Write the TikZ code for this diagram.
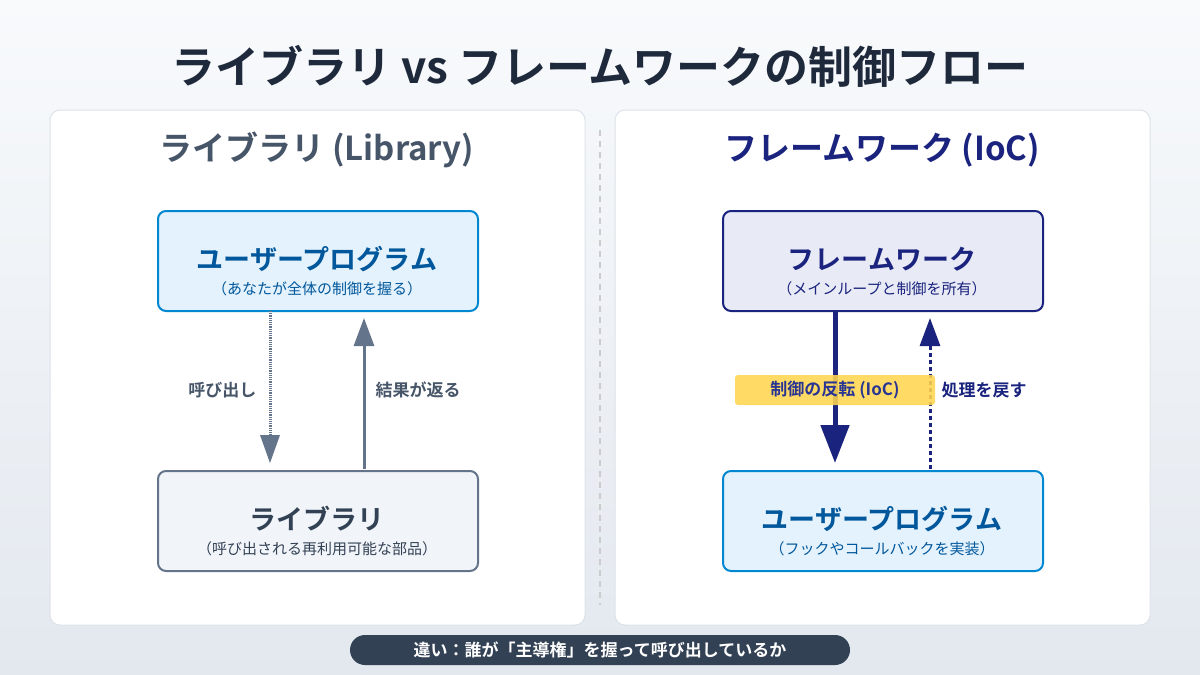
\documentclass[tikz,border=0pt]{standalone}
\usepackage{fontspec}
\setmainfont{Noto Sans CJK JP}
\newfontfamily\jpbold{Noto Sans CJK JP Bold}
\usetikzlibrary{arrows.meta}
\definecolor{bgtop}{HTML}{F8FAFC}\definecolor{bgbot}{HTML}{E3E8EF}
\definecolor{ink}{HTML}{1E293B}\definecolor{slate}{HTML}{475569}
\definecolor{slateln}{HTML}{64748B}\definecolor{navy}{HTML}{1A237E}
\definecolor{blue}{HTML}{0288D1}\definecolor{dblue}{HTML}{01579B}
\definecolor{lblue}{HTML}{E3F2FD}\definecolor{lnavy}{HTML}{E8EAF6}
\definecolor{lgray}{HTML}{F1F5F9}\definecolor{panelln}{HTML}{DDE3EA}
\definecolor{yel}{HTML}{FFD54F}\definecolor{pill}{HTML}{334155}
\definecolor{ind}{HTML}{283593}
\begin{document}
\begin{tikzpicture}[x=1pt,y=-1pt,
 panel/.style={draw=panelln,fill=white,rounded corners=10pt,line width=1pt},
 box/.style={rounded corners=8pt,line width=2pt,minimum width=320pt,minimum height=100pt,anchor=north west,inner sep=0pt},
 big/.style={font=\jpbold\fontsize{27}{30}\selectfont},
 sub/.style={font=\fontsize{15}{17}\selectfont},
 lab/.style={font=\jpbold\fontsize{17}{19}\selectfont}]
\useasboundingbox (0,0) rectangle (1200,675);
\shade[top color=bgtop,bottom color=bgbot] (0,0) rectangle (1200,675);
\node[font=\jpbold\fontsize{44}{50}\selectfont,text=ink] (title) at (600,66) {ライブラリ vs フレームワークの制御フロー};
\draw[panel] (50,110) rectangle (585,625);
\draw[panel] (615,110) rectangle (1150,625);
\draw[draw=black!20,line width=1.5pt,dash pattern=on 6pt off 5pt] (600,130) -- (600,605);
\node[font=\jpbold\fontsize{33}{37}\selectfont,text=slate] (lh) at (317,150) {ライブラリ (Library)};
\node[font=\jpbold\fontsize{33}{37}\selectfont,text=navy] (rh) at (882,150) {フレームワーク (IoC)};
% left boxes
\node[box,draw=blue,fill=lblue] (lu) at (157,210) {};
\node[big,text=dblue] at (317,259) {ユーザープログラム};
\node[sub,text=dblue] at (317,289) {（あなたが全体の制御を握る）};
\node[box,draw=slateln,fill=lgray] (ll) at (157,470) {};
\node[big,text=pill] at (317,519) {ライブラリ};
\node[sub,text=pill] at (317,549) {（呼び出される再利用可能な部品）};
\coordinate (a1) at (270,311); \coordinate (a2) at (270,463);
\coordinate (b1) at (364,469); \coordinate (b2) at (364,318);
\draw[slateln,line width=3pt,dash pattern=on 1.2pt off 1pt,-{Triangle[width=20pt,length=28pt,line width=0pt]}] (a1) -- (a2);
\draw[slateln,line width=3pt,-{Triangle[width=20pt,length=28pt]}] (b1) -- (b2);
\node[lab,text=slate,anchor=east] (l1) at (260,390) {呼び出し};
\node[lab,text=slate,anchor=west] (l2) at (372,390) {結果が返る};
% right boxes
\node[box,draw=navy,fill=lnavy] (ru) at (722,210) {};
\node[big,text=navy] at (882,259) {フレームワーク};
\node[sub,text=navy] at (882,289) {（メインループと制御を所有）};
\node[box,draw=blue,fill=lblue] (rl) at (722,470) {};
\node[big,text=dblue] at (882,519) {ユーザープログラム};
\node[sub,text=dblue] at (882,549) {（フックやコールバックを実装）};
\coordinate (c1) at (835,311); \coordinate (c2) at (835,463);
\coordinate (d1) at (930,469); \coordinate (d2) at (930,318);
\draw[navy,line width=5pt,-{Triangle[width=28pt,length=38pt]}] (c1) -- (c2);
\draw[navy,line width=3pt,dash pattern=on 4pt off 3pt,-{Triangle[width=20pt,length=28pt]}] (d1) -- (d2);
\fill[yel,opacity=0.88,rounded corners=3pt] (735,375) rectangle (935,405);
\node[lab,text=ind] (ioc) at (835,390) {制御の反転 (IoC)};
\node[lab,text=navy,anchor=west] (ret) at (938,390) {処理を戻す};
\fill[pill,rounded corners=15pt] (350,635) rectangle (850,665);
\node[lab,text=white] (diff) at (600,650) {違い：誰が「主導権」を握って呼び出しているか};
\end{tikzpicture}
\end{document}
